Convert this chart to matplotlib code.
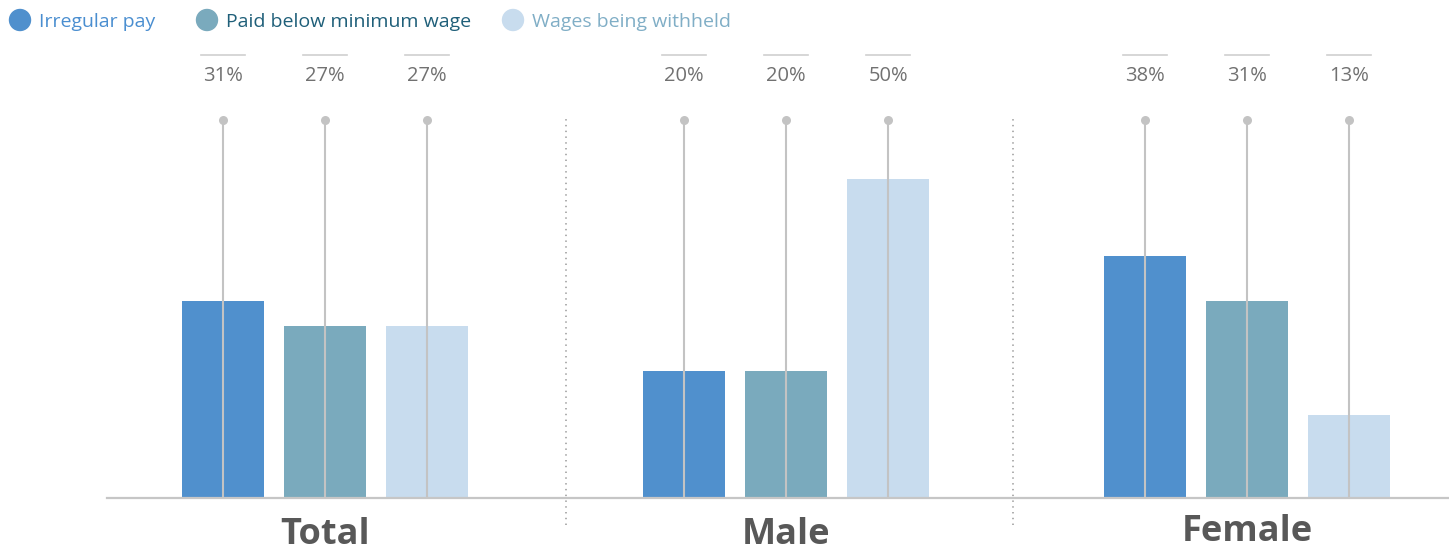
import matplotlib
matplotlib.use("Agg")
import matplotlib.pyplot as plt
from matplotlib.patches import Ellipse
import numpy as np

# ---- data ----
groups = ["Total", "Male", "Female"]
series = ["Irregular pay", "Paid below minimum wage", "Wages being withheld"]
irregular_pay = [31, 20, 38]
below_min_wage = [27, 20, 31]
wages_withheld = [27, 50, 13]
values = [irregular_pay, below_min_wage, wages_withheld]

# ---- styling ----
bar_colors = ["#5090cd", "#7aaabd", "#c8dcee"]
legend_text_colors = ["#4a8ed0", "#1f5f79", "#80aec6"]
stem_color = "#c3c3c3"
label_color = "#717171"
cat_color = "#585858"
font = "Open Sans"

W, H = 1449, 552
fig = plt.figure(figsize=(W / 100, H / 100), dpi=100)
ax = fig.add_axes([0, 0, 1, 1])
ax.set_xlim(-0.705, 2.438)
ax.set_ylim(-8.48, 78.18)
ax.axis("off")

offset = 0.2213
width = 0.178
stem_top = 59.3
rule_y = 69.6
label_y = 66.3

x = np.arange(len(groups))
for s, (vals, col) in enumerate(zip(values, bar_colors)):
    xs = x + (s - 1) * offset
    ax.bar(xs, vals, width=width, color=col, zorder=2)
    for xi, v in zip(xs, vals):
        ax.plot([xi, xi], [0, stem_top], color=stem_color, lw=1.5, zorder=3,
                solid_capstyle="butt")
        ax.plot([xi], [stem_top], "o", color=stem_color, ms=6.5, zorder=4,
                mec="none")
        ax.plot([xi - 0.047, xi + 0.047], [rule_y, rule_y], color="#cfcfcf",
                lw=1.2, zorder=3)
        ax.text(xi, label_y, f"{v}%", ha="center", va="center",
                fontsize=14.5, color=label_color, family=font)

# baseline
ax.plot([-0.473, 2.438], [0, 0], color="#c6c6c6", lw=1.6, zorder=5)

# dotted separators between groups
for sx in [0.523, 1.492]:
    ax.plot([sx, sx], [-4.3, 60.0], color="#a8a8a8", lw=1.3,
            linestyle=(0, (0.8, 2.4)), zorder=1)

# group labels
cat_y = [-7.3, -7.3, -6.7]
for xi, name, cy in zip(x, groups, cat_y):
    ax.text(xi, cy, name, ha="center", va="baseline", fontsize=26,
            fontweight="bold", color=cat_color, family=font)

# legend
legend_x = [20, 207, 513]
for lx, name, col, tcol in zip(legend_x, series, bar_colors, legend_text_colors):
    fig.add_artist(Ellipse((lx / W, 1 - 20 / H), 21 / W, 21 / H,
                           transform=fig.transFigure, color=col, zorder=10))
    fig.text((lx + 19) / W, 1 - 22 / H, name, ha="left", va="center",
             fontsize=14, color=tcol, family=font)

fig.savefig("out.png", dpi=100)
